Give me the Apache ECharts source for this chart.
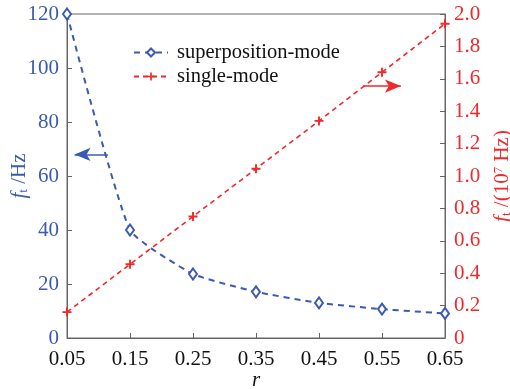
<!DOCTYPE html>
<html><head><meta charset="utf-8">
<script src="https://cdn.jsdelivr.net/npm/echarts@6/dist/echarts.min.js"></script>
<style>html,body{margin:0;padding:0;background:#fff}#c{width:510px;height:389px}</style>
</head><body><div id="c"></div>
<script>
const categories = ['0.05','0.15','0.25','0.35','0.45','0.55','0.65'];
const superpositionMode = [120, 40, 23.7, 17.1, 13.0, 10.7, 9.1];
const singleMode = [0.16, 0.455, 0.75, 1.045, 1.34, 1.64, 1.94];
const leftTicks = {min: 0, max: 120, interval: 20};
const rightTicks = {min: 0, max: 2.0, interval: 0.2};
const blueArrow = [[0.115, 68], [0.062, 68]];
const redArrow = [[0.52, 1.555], [0.58, 1.555]];

const BLUE = '#3a5bb0', RED = '#f0282a', AX = '#666';
const FONT = 'Liberation Serif';
const plus = 'path://M3,0h1.6v3h3v1.6h-3v3h-1.6v-3h-3v-1.6h3z';

const chart = echarts.init(document.getElementById('c'), null, {renderer: 'canvas'});
chart.setOption({
  animation: false,
  textStyle: {fontFamily: FONT},
  grid: {left: 67, right: 65, top: 14, bottom: 51, show: true, borderColor: AX, borderWidth: 1,
    containLabel: false, outerBoundsMode: 'none'},
  legend: {
    left: 128, top: 37, orient: 'vertical', itemGap: 3, itemWidth: 34, itemHeight: 10,
    textStyle: {fontFamily: FONT, fontSize: 20.5, color: '#111', padding: [0, 0, 0, 4]},
    data: ['superposition-mode', 'single-mode']
  },
  xAxis: [{
    type: 'category', data: categories, boundaryGap: false,
    axisLine: {lineStyle: {color: AX}},
    axisTick: {inside: true, length: 5, lineStyle: {color: AX}},
    axisLabel: {fontFamily: FONT, fontSize: 21, color: '#111', margin: 11},
    name: 'r', nameLocation: 'middle', nameGap: 32, nameMoveOverlap: false,
    nameTextStyle: {fontFamily: FONT, fontSize: 21, fontStyle: 'italic', color: '#111'}
  }, {
    type: 'value', min: 0.05, max: 0.65, show: false
  }],
  yAxis: [{
    type: 'value', min: leftTicks.min, max: leftTicks.max, interval: leftTicks.interval,
    splitLine: {show: false},
    axisLine: {show: true, lineStyle: {color: AX}},
    axisTick: {show: true, inside: true, length: 5, lineStyle: {color: AX}},
    axisLabel: {fontFamily: FONT, fontSize: 21, color: BLUE, margin: 8},
    name: '{i|f}{s|t}{n| /Hz}', nameLocation: 'middle', nameGap: 37, nameRotate: 90, nameMoveOverlap: false,
    nameTextStyle: {rich: {
      i: {fontFamily: FONT, fontSize: 21, fontStyle: 'italic', color: BLUE},
      s: {fontFamily: FONT, fontSize: 13, color: BLUE, verticalAlign: 'bottom', padding: [8,0,0,0]},
      n: {fontFamily: FONT, fontSize: 21, color: BLUE}
    }}
  }, {
    type: 'value', min: rightTicks.min, max: rightTicks.max, interval: rightTicks.interval,
    position: 'right',
    splitLine: {show: false},
    axisLine: {show: true, lineStyle: {color: AX}},
    axisTick: {show: true, inside: true, length: 5, lineStyle: {color: AX}},
    axisLabel: {fontFamily: FONT, fontSize: 21, color: RED, margin: 9,
      formatter: v => v === 0 ? '0' : v.toFixed(1)},
    name: '{i|f}{s|t}{n| /(10}{p|7}{n| Hz)}', nameLocation: 'middle', nameGap: 47, nameRotate: 90, nameMoveOverlap: false,
    nameTextStyle: {rich: {
      i: {fontFamily: FONT, fontSize: 21, fontStyle: 'italic', color: RED},
      s: {fontFamily: FONT, fontSize: 13, color: RED, verticalAlign: 'bottom', padding: [8,0,0,0]},
      p: {fontFamily: FONT, fontSize: 13, color: RED, verticalAlign: 'top', padding: [0,0,8,0]},
      n: {fontFamily: FONT, fontSize: 21, color: RED}
    }}
  }],
  series: [{
    name: 'superposition-mode', type: 'line', data: superpositionMode,
    xAxisIndex: 0, yAxisIndex: 0, smooth: 0.15,
    symbol: 'emptyDiamond', symbolSize: [8, 11],
    lineStyle: {color: BLUE, width: 2, type: [6, 5]},
    itemStyle: {color: BLUE, borderWidth: 1.5},
    z: 3
  }, {
    name: 'single-mode', type: 'line', data: singleMode,
    xAxisIndex: 0, yAxisIndex: 1,
    symbol: plus, symbolSize: 9,
    lineStyle: {color: RED, width: 1.6, type: [5, 4]},
    itemStyle: {color: RED},
    z: 2
  }, {
    type: 'line', data: [], xAxisIndex: 1, yAxisIndex: 0, silent: true,
    markLine: {silent: true, symbol: ['none', 'arrow'], symbolSize: [10, 16], label: {show: false},
      lineStyle: {color: BLUE, width: 1.5, type: 'solid'},
      data: [[{coord: blueArrow[0]}, {coord: blueArrow[1]}]]}
  }, {
    type: 'line', data: [], xAxisIndex: 1, yAxisIndex: 1, silent: true,
    markLine: {silent: true, symbol: ['none', 'arrow'], symbolSize: [10, 16], label: {show: false},
      lineStyle: {color: RED, width: 1.5, type: 'solid'},
      data: [[{coord: redArrow[0]}, {coord: redArrow[1]}]]}
  }]
});
</script></body></html>
